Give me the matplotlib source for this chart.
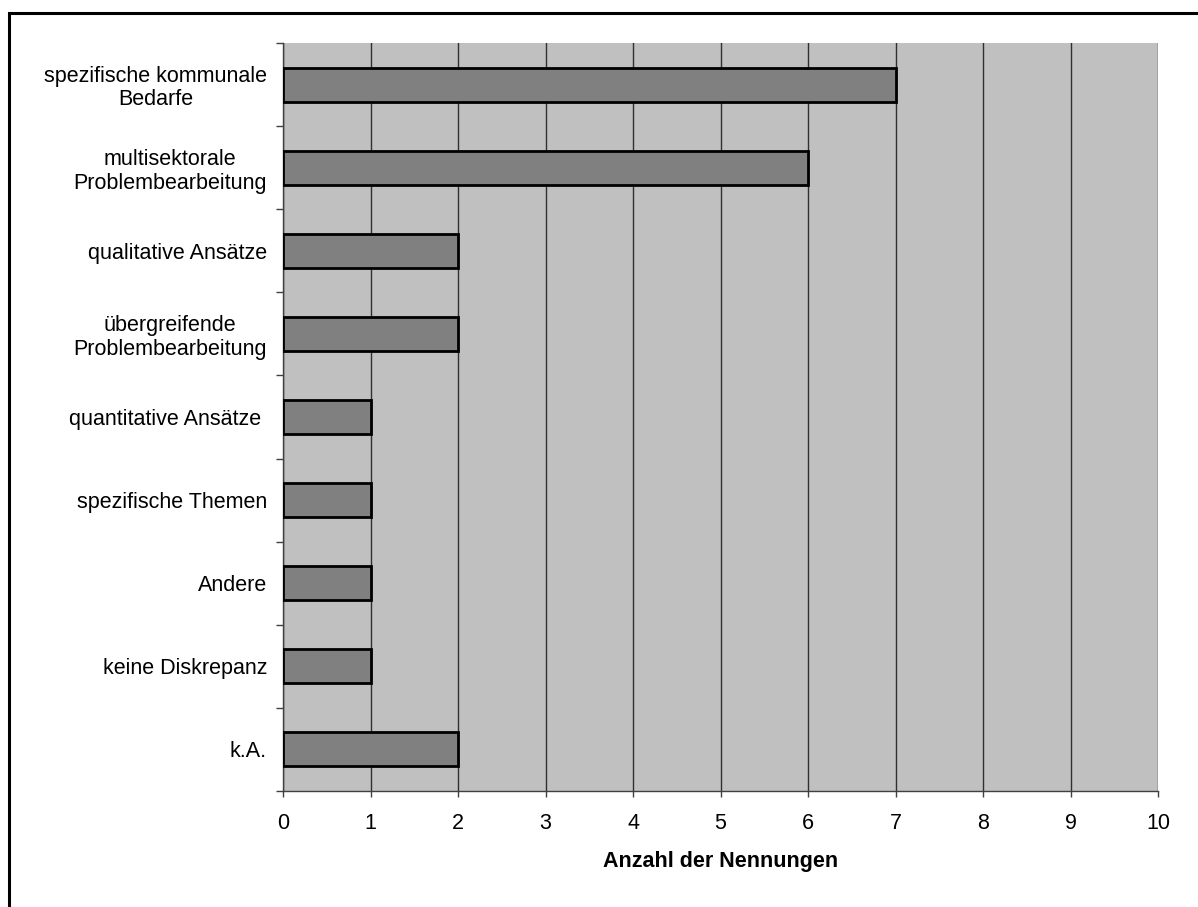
import matplotlib.pyplot as plt
from matplotlib.patches import Rectangle

categories = [
    "spezifische kommunale\nBedarfe",
    "multisektorale\nProblembearbeitung",
    "qualitative Ansätze",
    "übergreifende\nProblembearbeitung",
    "quantitative Ansätze ",
    "spezifische Themen",
    "Andere",
    "keine Diskrepanz",
    "k.A.",
]
counts = [7, 6, 2, 2, 1, 1, 1, 1, 2]
x_ticks = list(range(0, 11))

plt.rcParams["font.family"] = ["Liberation Sans", "DejaVu Sans"]
FS = 15.5

W, H = 1198, 907
fig = plt.figure(figsize=(W / 100, H / 100), dpi=100)
ax = fig.add_axes([283 / W, 1 - 791 / H, (1158 - 283) / W, (791 - 43) / H])

# frame around the whole chart (right and bottom edges run off the canvas)
fig.patches.append(Rectangle((8.5 / W, -0.05), 1.2, 1 - 12.5 / H + 0.05,
                             transform=fig.transFigure, fill=False,
                             edgecolor="black", linewidth=2.2))

n = len(categories)
pos = list(range(n))
ax.set_facecolor("#c0c0c0")
ax.barh(pos, counts, height=0.41, color="#808080", edgecolor="black",
        linewidth=2.0, zorder=3)

ax.set_xlim(0, 10)
ax.set_ylim(n - 0.5, -0.5)
ax.set_xticks(x_ticks)
ax.set_xticklabels([str(t) for t in x_ticks], fontsize=FS)
ax.xaxis.grid(True, color="#303030", linewidth=1.0, zorder=1)
ax.set_axisbelow(True)

# category labels at bar centres, ticks at the category boundaries
ax.set_yticks(pos)
ax.set_yticklabels(categories, fontsize=FS, multialignment="center",
                   linespacing=1.15)
ax.tick_params(axis="y", length=0, pad=11.5)
ax.set_yticks([p - 0.5 for p in range(n + 1)], minor=True)
ax.tick_params(axis="y", which="minor", length=5, width=1.0, color="#404040")
ax.tick_params(axis="x", length=4.5, width=1.0, color="#404040", pad=11.2)

for side in ("top", "right"):
    ax.spines[side].set_visible(False)
for side in ("left", "bottom"):
    ax.spines[side].set_color("#404040")
    ax.spines[side].set_linewidth(1.0)

ax.set_xlabel("Anzahl der Nennungen", fontsize=FS, fontweight="bold",
              labelpad=12.5)

fig.savefig("out.png", dpi=100)
